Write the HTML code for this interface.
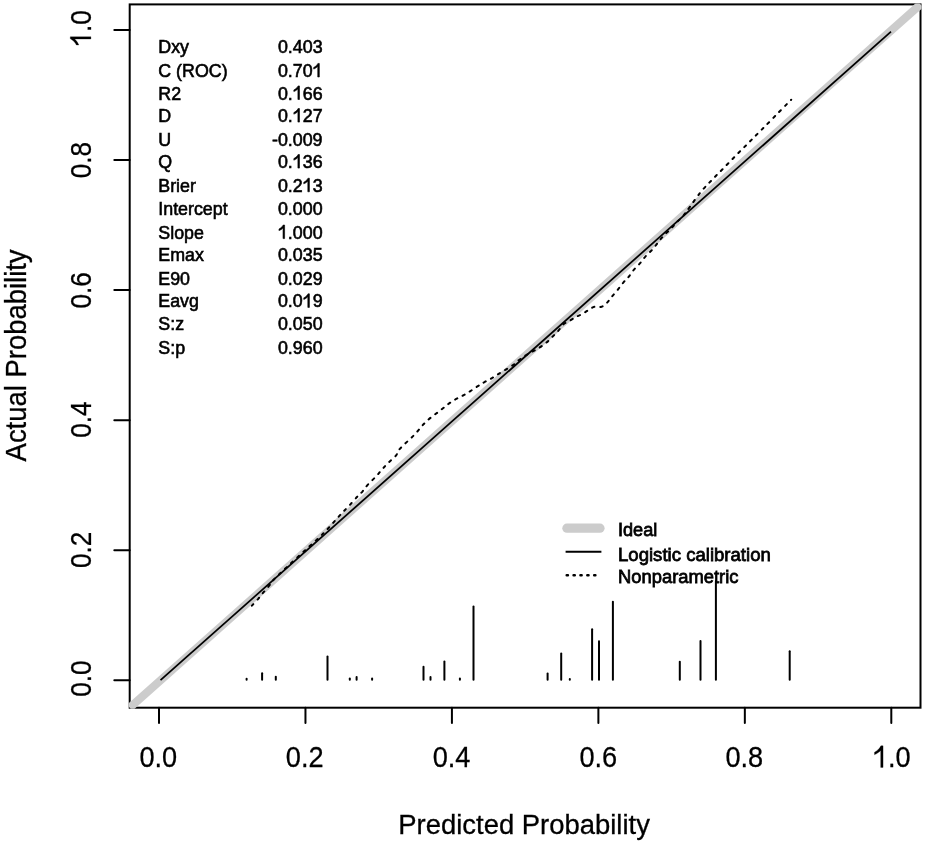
<!DOCTYPE html><html><head><meta charset="utf-8"><style>html,body{margin:0;padding:0;background:#fff;width:925px;height:843px;overflow:hidden}svg{display:block;will-change:transform}text{font-family:"Liberation Sans",sans-serif;fill:#000;font-kerning:none}</style></head><body>
<svg width="925" height="843" viewBox="0 0 925 843">
<rect x="129.7" y="4.4" width="790.80" height="703.30" fill="none" stroke="#000" stroke-width="2.0"/>
<line x1="159.00" y1="707.70" x2="159.00" y2="723.10" stroke="#000" stroke-width="2.0" stroke-linecap="round"/>
<line x1="129.70" y1="680.30" x2="114.30" y2="680.30" stroke="#000" stroke-width="2.0" stroke-linecap="round"/>
<line x1="305.46" y1="707.70" x2="305.46" y2="723.10" stroke="#000" stroke-width="2.0" stroke-linecap="round"/>
<line x1="129.70" y1="550.24" x2="114.30" y2="550.24" stroke="#000" stroke-width="2.0" stroke-linecap="round"/>
<line x1="451.92" y1="707.70" x2="451.92" y2="723.10" stroke="#000" stroke-width="2.0" stroke-linecap="round"/>
<line x1="129.70" y1="420.18" x2="114.30" y2="420.18" stroke="#000" stroke-width="2.0" stroke-linecap="round"/>
<line x1="598.38" y1="707.70" x2="598.38" y2="723.10" stroke="#000" stroke-width="2.0" stroke-linecap="round"/>
<line x1="129.70" y1="290.12" x2="114.30" y2="290.12" stroke="#000" stroke-width="2.0" stroke-linecap="round"/>
<line x1="744.84" y1="707.70" x2="744.84" y2="723.10" stroke="#000" stroke-width="2.0" stroke-linecap="round"/>
<line x1="129.70" y1="160.06" x2="114.30" y2="160.06" stroke="#000" stroke-width="2.0" stroke-linecap="round"/>
<line x1="891.30" y1="707.70" x2="891.30" y2="723.10" stroke="#000" stroke-width="2.0" stroke-linecap="round"/>
<line x1="129.70" y1="30.00" x2="114.30" y2="30.00" stroke="#000" stroke-width="2.0" stroke-linecap="round"/>
<g transform="translate(158.35 767.40) scale(1 1.11)"><text x="-18.91" y="0" font-size="27.2" stroke="#000" stroke-width="0.25">0.0</text></g>
<g transform="translate(90.90 678.60) rotate(-90) scale(1 1.1)"><text x="-18.21" y="0" font-size="26.2" stroke="#000" stroke-width="0.25">0.0</text></g>
<g transform="translate(304.76 767.40) scale(1 1.11)"><text x="-18.91" y="0" font-size="27.2" stroke="#000" stroke-width="0.25">0.2</text></g>
<g transform="translate(90.90 549.89) rotate(-90) scale(1 1.1)"><text x="-18.21" y="0" font-size="26.2" stroke="#000" stroke-width="0.25">0.2</text></g>
<g transform="translate(451.57 767.40) scale(1 1.11)"><text x="-18.91" y="0" font-size="27.2" stroke="#000" stroke-width="0.25">0.4</text></g>
<g transform="translate(90.90 419.58) rotate(-90) scale(1 1.1)"><text x="-18.21" y="0" font-size="26.2" stroke="#000" stroke-width="0.25">0.4</text></g>
<g transform="translate(598.28 767.40) scale(1 1.11)"><text x="-18.91" y="0" font-size="27.2" stroke="#000" stroke-width="0.25">0.6</text></g>
<g transform="translate(90.90 290.27) rotate(-90) scale(1 1.1)"><text x="-18.21" y="0" font-size="26.2" stroke="#000" stroke-width="0.25">0.6</text></g>
<g transform="translate(744.29 767.40) scale(1 1.11)"><text x="-18.91" y="0" font-size="27.2" stroke="#000" stroke-width="0.25">0.8</text></g>
<g transform="translate(90.90 160.16) rotate(-90) scale(1 1.1)"><text x="-18.21" y="0" font-size="26.2" stroke="#000" stroke-width="0.25">0.8</text></g>
<g transform="translate(891.85 767.40) scale(1 1.11)"><text x="-18.91" y="0" font-size="27.2" stroke="#000" stroke-width="0.25"> .0</text><path transform="translate(-18.91 0) scale(0.01328 -0.01328)" d="M763 0L583 0L583 1147Q518 1085 432 1024Q346 962 260 920Q174 878 117 858L117 1032Q248 1094 364 1188Q480 1282 532 1360Q584 1438 600 1466L763 1466Z" stroke="#000" stroke-width="18.8"/></g>
<g transform="translate(90.90 28.30) rotate(-90) scale(1 1.1)"><text x="-18.21" y="0" font-size="26.2" stroke="#000" stroke-width="0.25"> .0</text><path transform="translate(-18.21 0) scale(0.01279 -0.01279)" d="M763 0L583 0L583 1147Q518 1085 432 1024Q346 962 260 920Q174 878 117 858L117 1032Q248 1094 364 1188Q480 1282 532 1360Q584 1438 600 1466L763 1466Z" stroke="#000" stroke-width="19.5"/></g>
<g transform="translate(524.10 833.90) scale(1 1.02)"><text x="-125.88" y="0" font-size="27.45" stroke="#000" stroke-width="0.3">Predicted Probability</text></g>
<g transform="translate(25.60 355.40) rotate(-90) scale(1 1.045)"><text x="-106.04" y="0" font-size="27.45" stroke="#000" stroke-width="0.3">Actual Probability</text></g>
<clipPath id="c"><rect x="128.7" y="3.4000000000000004" width="792.80" height="705.30"/></clipPath>
<line clip-path="url(#c)" x1="129.70" y1="707.70" x2="920.50" y2="4.40" stroke="#cccccc" stroke-width="8.2"/>
<line x1="160.5" y1="680.2" x2="891.0" y2="31.7" stroke="#000" stroke-width="1.75"/>
<path d="M251.9 605.7C252.8 604.6 256.0 601.3 257.8 599.3C259.6 597.2 260.8 595.7 262.6 593.4C264.5 591.2 267.1 588.2 269.0 585.9C270.9 583.6 270.8 582.7 273.8 579.5C276.9 576.3 281.9 571.8 287.2 566.8C292.4 561.9 299.4 555.6 305.5 549.9C311.6 544.3 318.5 538.3 323.8 533.0C329.0 527.8 333.9 521.8 337.1 518.4C340.3 514.9 340.8 514.3 342.8 512.2C344.8 510.1 346.5 508.5 348.9 506.0C351.3 503.4 354.8 499.3 357.0 497.0C359.2 494.6 360.4 493.8 362.2 491.8C364.0 489.7 365.6 487.2 367.9 484.6C370.2 482.1 373.6 479.0 376.0 476.5C378.3 474.0 380.1 471.7 382.1 469.4C384.2 467.1 386.0 465.1 388.3 462.8C390.6 460.5 394.0 458.0 395.9 455.7C397.8 453.4 396.9 452.2 399.9 448.8C403.0 445.3 409.8 439.5 414.2 435.0C418.6 430.5 421.8 425.7 426.1 421.7C430.3 417.6 435.4 414.2 439.8 410.8C444.1 407.4 447.9 404.1 452.2 401.3C456.5 398.5 461.3 396.6 465.5 394.2C469.7 391.7 474.2 388.4 477.4 386.4C480.6 384.4 482.1 383.4 484.5 382.1C486.9 380.7 489.3 379.6 491.6 378.3C493.9 377.0 495.9 375.5 498.2 374.1C500.5 372.7 502.9 371.3 505.4 369.8C507.8 368.3 510.8 366.7 513.0 365.1C515.2 363.5 516.6 361.9 518.6 360.3C520.7 358.7 522.9 357.1 525.3 355.6C527.7 354.1 530.5 352.7 532.9 351.3C535.3 350.0 537.3 348.9 539.5 347.5C541.7 346.1 544.1 344.5 546.2 342.8C548.3 341.1 550.2 339.0 552.1 337.1C554.0 335.2 555.9 333.5 557.8 331.4C559.7 329.3 561.5 326.1 563.5 324.3C565.6 322.5 568.1 321.7 570.1 320.5C572.2 319.3 573.8 318.1 575.8 317.0C577.9 315.9 580.3 315.1 582.5 313.9C584.7 312.7 587.0 310.8 589.1 309.6C591.1 308.4 592.7 307.2 594.8 306.7C596.9 306.2 599.5 307.3 601.5 306.7C603.5 306.1 605.1 304.6 606.7 303.0C608.4 301.4 609.7 299.3 611.4 297.3C613.1 295.2 615.1 293.0 617.1 290.6C619.1 288.1 621.4 284.8 623.3 282.6C625.1 280.4 626.5 279.5 628.3 277.3C630.1 275.2 631.9 272.2 634.0 269.7C636.0 267.3 638.6 265.0 640.6 262.6C642.7 260.2 644.2 257.8 646.3 255.5C648.3 253.2 651.0 251.2 653.0 248.9C655.1 246.6 656.7 244.0 658.6 241.7C660.5 239.4 662.2 237.3 664.3 235.1C666.4 232.9 669.0 230.7 671.0 228.5C673.1 226.4 674.6 224.4 676.7 222.3C678.7 220.2 681.1 218.3 683.3 215.7C685.5 213.1 687.0 210.7 689.9 206.8C692.8 202.8 697.1 196.5 700.7 192.1C704.3 187.7 708.0 184.0 711.6 180.3C715.1 176.6 718.0 173.8 722.0 169.8C725.9 165.8 730.9 160.6 735.3 156.1C739.8 151.6 744.3 147.1 748.6 142.8C752.8 138.6 756.4 134.9 760.9 130.5C765.3 126.0 770.2 121.1 775.2 116.0C780.3 110.8 788.5 102.4 791.2 99.7" fill="none" stroke="#000" stroke-width="2.0" stroke-dasharray="2.4 5.9" stroke-linecap="round"/>
<line x1="246.6" y1="679.7" x2="246.6" y2="678.8" stroke="#000" stroke-width="2" stroke-linecap="round"/>
<line x1="262.1" y1="679.7" x2="262.1" y2="673.3" stroke="#000" stroke-width="2" stroke-linecap="round"/>
<line x1="275.8" y1="679.7" x2="275.8" y2="676.7" stroke="#000" stroke-width="2" stroke-linecap="round"/>
<line x1="327.5" y1="679.7" x2="327.5" y2="656.5" stroke="#000" stroke-width="2" stroke-linecap="round"/>
<line x1="349.8" y1="679.7" x2="349.8" y2="678.5" stroke="#000" stroke-width="2" stroke-linecap="round"/>
<line x1="356.6" y1="679.7" x2="356.6" y2="677.0" stroke="#000" stroke-width="2" stroke-linecap="round"/>
<line x1="372.1" y1="679.7" x2="372.1" y2="678.5" stroke="#000" stroke-width="2" stroke-linecap="round"/>
<line x1="423.5" y1="679.7" x2="423.5" y2="666.7" stroke="#000" stroke-width="2" stroke-linecap="round"/>
<line x1="430.5" y1="679.7" x2="430.5" y2="677.0" stroke="#000" stroke-width="2" stroke-linecap="round"/>
<line x1="444.4" y1="679.7" x2="444.4" y2="661.4" stroke="#000" stroke-width="2" stroke-linecap="round"/>
<line x1="459.9" y1="679.7" x2="459.9" y2="678.5" stroke="#000" stroke-width="2" stroke-linecap="round"/>
<line x1="473.5" y1="679.7" x2="473.5" y2="606.4" stroke="#000" stroke-width="2" stroke-linecap="round"/>
<line x1="547.6" y1="679.7" x2="547.6" y2="673.6" stroke="#000" stroke-width="2" stroke-linecap="round"/>
<line x1="561.2" y1="679.7" x2="561.2" y2="653.4" stroke="#000" stroke-width="2" stroke-linecap="round"/>
<line x1="569.8" y1="679.7" x2="569.8" y2="679.0" stroke="#000" stroke-width="2" stroke-linecap="round"/>
<line x1="592.1" y1="679.7" x2="592.1" y2="629.3" stroke="#000" stroke-width="2" stroke-linecap="round"/>
<line x1="599.0" y1="679.7" x2="599.0" y2="641.2" stroke="#000" stroke-width="2" stroke-linecap="round"/>
<line x1="612.9" y1="679.7" x2="612.9" y2="601.7" stroke="#000" stroke-width="2" stroke-linecap="round"/>
<line x1="679.8" y1="679.7" x2="679.8" y2="661.8" stroke="#000" stroke-width="2" stroke-linecap="round"/>
<line x1="700.5" y1="679.7" x2="700.5" y2="641.0" stroke="#000" stroke-width="2" stroke-linecap="round"/>
<line x1="715.9" y1="679.7" x2="715.9" y2="581.0" stroke="#000" stroke-width="2" stroke-linecap="round"/>
<line x1="789.7" y1="679.7" x2="789.7" y2="651.3" stroke="#000" stroke-width="2" stroke-linecap="round"/>
<line x1="566.9" y1="528.2" x2="600.0" y2="528.2" stroke="#cccccc" stroke-width="9.2" stroke-linecap="round"/>
<line x1="565.6" y1="551.7" x2="601.4" y2="551.7" stroke="#000" stroke-width="2"/>
<line x1="566.7" y1="575.3" x2="596.2" y2="575.3" stroke="#000" stroke-width="2.5" stroke-dasharray="1.2 5.67" stroke-linecap="round"/>
<g transform="translate(618.00 536.10) scale(0.99 1.02)"><text x="0.00" y="0" font-size="18.3" stroke="#000" stroke-width="0.75">Ideal</text></g>
<g transform="translate(618.00 560.80) scale(1.016 1.02)"><text x="0.00" y="0" font-size="18.3" stroke="#000" stroke-width="0.75">Logistic calibration</text></g>
<g transform="translate(618.00 582.90) scale(1.004 1.02)"><text x="0.00" y="0" font-size="18.3" stroke="#000" stroke-width="0.75">Nonparametric</text></g>
<g transform="translate(158.30 52.70) scale(0.975 1.035)"><text x="0.00" y="0" font-size="18.3" stroke="#000" stroke-width="0.6">Dxy</text></g>
<g transform="translate(322.60 52.70) scale(0.975 1.035)"><text x="-45.79" y="0" font-size="18.3" stroke="#000" stroke-width="0.6">0.403</text></g>
<g transform="translate(158.30 77.00) scale(0.975 1.035)"><text x="0.00" y="0" font-size="18.3" stroke="#000" stroke-width="0.6">C (ROC)</text></g>
<g transform="translate(322.60 77.00) scale(0.975 1.035)"><text x="-45.79" y="0" font-size="18.3" stroke="#000" stroke-width="0.6">0.70 </text><path transform="translate(-10.18 0) scale(0.00894 -0.00894)" d="M763 0L583 0L583 1147Q518 1085 432 1024Q346 962 260 920Q174 878 117 858L117 1032Q248 1094 364 1188Q480 1282 532 1360Q584 1438 600 1466L763 1466Z" stroke="#000" stroke-width="67.1"/></g>
<g transform="translate(158.30 99.50) scale(0.975 1.035)"><text x="0.00" y="0" font-size="18.3" stroke="#000" stroke-width="0.6">R2</text></g>
<g transform="translate(322.60 99.50) scale(0.975 1.035)"><text x="-45.79" y="0" font-size="18.3" stroke="#000" stroke-width="0.6">0. 66</text><path transform="translate(-30.53 0) scale(0.00894 -0.00894)" d="M763 0L583 0L583 1147Q518 1085 432 1024Q346 962 260 920Q174 878 117 858L117 1032Q248 1094 364 1188Q480 1282 532 1360Q584 1438 600 1466L763 1466Z" stroke="#000" stroke-width="67.1"/></g>
<g transform="translate(158.30 122.10) scale(0.975 1.035)"><text x="0.00" y="0" font-size="18.3" stroke="#000" stroke-width="0.6">D</text></g>
<g transform="translate(322.60 122.10) scale(0.975 1.035)"><text x="-45.79" y="0" font-size="18.3" stroke="#000" stroke-width="0.6">0. 27</text><path transform="translate(-30.53 0) scale(0.00894 -0.00894)" d="M763 0L583 0L583 1147Q518 1085 432 1024Q346 962 260 920Q174 878 117 858L117 1032Q248 1094 364 1188Q480 1282 532 1360Q584 1438 600 1466L763 1466Z" stroke="#000" stroke-width="67.1"/></g>
<g transform="translate(158.30 145.60) scale(0.975 1.035)"><text x="0.00" y="0" font-size="18.3" stroke="#000" stroke-width="0.6">U</text></g>
<g transform="translate(322.60 145.60) scale(0.975 1.035)"><text x="-51.89" y="0" font-size="18.3" stroke="#000" stroke-width="0.6">-0.009</text></g>
<g transform="translate(158.30 168.10) scale(0.975 1.035)"><text x="0.00" y="0" font-size="18.3" stroke="#000" stroke-width="0.6">Q</text></g>
<g transform="translate(322.60 168.10) scale(0.975 1.035)"><text x="-45.79" y="0" font-size="18.3" stroke="#000" stroke-width="0.6">0. 36</text><path transform="translate(-30.53 0) scale(0.00894 -0.00894)" d="M763 0L583 0L583 1147Q518 1085 432 1024Q346 962 260 920Q174 878 117 858L117 1032Q248 1094 364 1188Q480 1282 532 1360Q584 1438 600 1466L763 1466Z" stroke="#000" stroke-width="67.1"/></g>
<g transform="translate(158.30 191.80) scale(0.975 1.035)"><text x="0.00" y="0" font-size="18.3" stroke="#000" stroke-width="0.6">Brier</text></g>
<g transform="translate(322.60 191.80) scale(0.975 1.035)"><text x="-45.79" y="0" font-size="18.3" stroke="#000" stroke-width="0.6">0.2 3</text><path transform="translate(-20.36 0) scale(0.00894 -0.00894)" d="M763 0L583 0L583 1147Q518 1085 432 1024Q346 962 260 920Q174 878 117 858L117 1032Q248 1094 364 1188Q480 1282 532 1360Q584 1438 600 1466L763 1466Z" stroke="#000" stroke-width="67.1"/></g>
<g transform="translate(158.30 214.90) scale(0.975 1.035)"><text x="0.00" y="0" font-size="18.3" stroke="#000" stroke-width="0.6">Intercept</text></g>
<g transform="translate(322.60 214.90) scale(0.975 1.035)"><text x="-45.79" y="0" font-size="18.3" stroke="#000" stroke-width="0.6">0.000</text></g>
<g transform="translate(158.30 238.60) scale(0.975 1.035)"><text x="0.00" y="0" font-size="18.3" stroke="#000" stroke-width="0.6">Slope</text></g>
<g transform="translate(322.60 238.60) scale(0.975 1.035)"><text x="-45.79" y="0" font-size="18.3" stroke="#000" stroke-width="0.6"> .000</text><path transform="translate(-45.79 0) scale(0.00894 -0.00894)" d="M763 0L583 0L583 1147Q518 1085 432 1024Q346 962 260 920Q174 878 117 858L117 1032Q248 1094 364 1188Q480 1282 532 1360Q584 1438 600 1466L763 1466Z" stroke="#000" stroke-width="67.1"/></g>
<g transform="translate(158.30 260.90) scale(0.975 1.035)"><text x="0.00" y="0" font-size="18.3" stroke="#000" stroke-width="0.6">Emax</text></g>
<g transform="translate(322.60 260.90) scale(0.975 1.035)"><text x="-45.79" y="0" font-size="18.3" stroke="#000" stroke-width="0.6">0.035</text></g>
<g transform="translate(158.30 284.60) scale(0.975 1.035)"><text x="0.00" y="0" font-size="18.3" stroke="#000" stroke-width="0.6">E90</text></g>
<g transform="translate(322.60 284.60) scale(0.975 1.035)"><text x="-45.79" y="0" font-size="18.3" stroke="#000" stroke-width="0.6">0.029</text></g>
<g transform="translate(158.30 307.40) scale(0.975 1.035)"><text x="0.00" y="0" font-size="18.3" stroke="#000" stroke-width="0.6">Eavg</text></g>
<g transform="translate(322.60 307.40) scale(0.975 1.035)"><text x="-45.79" y="0" font-size="18.3" stroke="#000" stroke-width="0.6">0.0 9</text><path transform="translate(-20.36 0) scale(0.00894 -0.00894)" d="M763 0L583 0L583 1147Q518 1085 432 1024Q346 962 260 920Q174 878 117 858L117 1032Q248 1094 364 1188Q480 1282 532 1360Q584 1438 600 1466L763 1466Z" stroke="#000" stroke-width="67.1"/></g>
<g transform="translate(158.30 330.10) scale(0.975 1.035)"><text x="0.00" y="0" font-size="18.3" stroke="#000" stroke-width="0.6">S:z</text></g>
<g transform="translate(322.60 330.10) scale(0.975 1.035)"><text x="-45.79" y="0" font-size="18.3" stroke="#000" stroke-width="0.6">0.050</text></g>
<g transform="translate(158.30 354.30) scale(0.975 1.035)"><text x="0.00" y="0" font-size="18.3" stroke="#000" stroke-width="0.6">S:p</text></g>
<g transform="translate(322.60 354.30) scale(0.975 1.035)"><text x="-45.79" y="0" font-size="18.3" stroke="#000" stroke-width="0.6">0.960</text></g>
</svg></body></html>
